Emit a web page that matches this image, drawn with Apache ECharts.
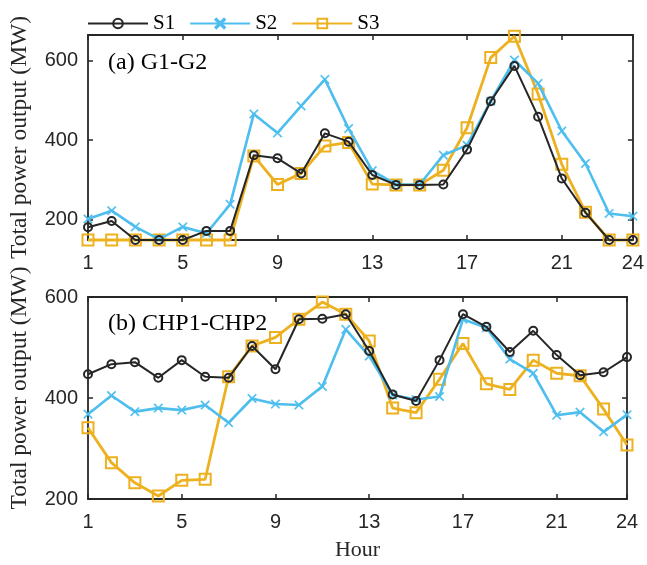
<!DOCTYPE html>
<html>
<head>
<meta charset="utf-8">
<script src="https://cdn.jsdelivr.net/npm/echarts@6/dist/echarts.min.js"></script>
<style>
html, body { margin: 0; padding: 0; background: #fff; }
#chart { width: 647px; height: 565px; }
</style>
</head>
<body>
<div id="chart"></div>
<script>
// hours on the x axis
const hours = [1, 2, 3, 4, 5, 6, 7, 8, 9, 10, 11, 12, 13, 14, 15, 16, 17, 18, 19, 20, 21, 22, 23, 24];
const xTicks = [1, 5, 9, 13, 17, 21, 24];
const yTicksTop = [200, 400, 600];
const yTicksBottom = [200, 400, 600];
const seriesNames = ['S1', 'S2', 'S3'];

// (a) G1-G2
const genS1 = [180, 196, 148, 148, 148, 171, 171, 362, 354, 316, 417, 396, 312, 287, 287, 288, 376, 498, 587, 459, 303, 217, 148, 148];
const genS2 = [201, 222, 181, 150, 181, 165, 238, 466, 418, 486, 553, 429, 323, 288, 288, 362, 387, 498, 602, 543, 423, 341, 215, 208];
const genS3 = [148, 148, 148, 148, 148, 148, 148, 360, 288, 316, 385, 394, 289, 287, 287, 324, 431, 608, 662, 516, 339, 218, 148, 148];

// (b) CHP1-CHP2
const chpS1 = [447, 467, 471, 440, 475, 442, 440, 503, 457, 556, 557, 566, 493, 407, 394, 475, 566, 541, 491, 533, 485, 445, 451, 481];
const chpS2 = [368, 405, 373, 380, 376, 386, 351, 399, 388, 386, 423, 536, 483, 406, 397, 403, 556, 539, 477, 449, 366, 372, 333, 367];
const chpS3 = [341, 272, 232, 206, 237, 239, 442, 503, 520, 556, 590, 566, 513, 380, 371, 437, 508, 428, 417, 475, 449, 444, 378, 307];

const axisColor = '#262626';
const serif = 'Liberation Serif';
const sans = 'Liberation Sans';

const styles = {
    S1: { color: '#262626', symbol: 'circle', size: 8, width: 2 },
    S2: { color: '#4DBEEE', symbol: 'path://M0,1L1,0L5,4L9,0L10,1L6,5L10,9L9,10L5,6L1,10L0,9L4,5Z', size: 9, width: 2.6 },
    S3: { color: '#EDB120', symbol: 'rect', size: 11, width: 2.8 }
};

function pairs(values) {
    return values.map((v, i) => [hours[i], v]);
}

function makeSeries(name, values, gridIdx) {
    const s = styles[name];
    const hollow = name !== 'S2';
    return {
        name: name,
        type: 'line',
        xAxisIndex: gridIdx * 2,
        yAxisIndex: gridIdx * 2,
        data: pairs(values),
        clip: false,
        symbol: s.symbol,
        symbolSize: s.size,
        color: s.color,
        lineStyle: { color: s.color, width: s.width },
        itemStyle: {
            color: hollow ? 'rgba(255,255,255,0)' : s.color,
            borderColor: s.color,
            borderWidth: hollow ? 2 : 0.5
        },
        emphasis: { disabled: true },
        z: name === 'S1' ? 4 : (name === 'S2' ? 3 : 2)
    };
}

// bottom axis with labels + mirrored top axis (box)
function xAxes(gridIdx, withName) {
    const line = { show: true, onZero: false, lineStyle: { color: axisColor, width: 1.8 } };
    const tick = { show: true, inside: true, length: 5, customValues: xTicks, lineStyle: { color: axisColor, width: 1.5 } };
    const bottom = {
        type: 'value', gridIndex: gridIdx, min: 1, max: 24, position: 'bottom',
        splitLine: { show: false }, axisLine: line, axisTick: tick,
        axisLabel: { show: true, customValues: xTicks, margin: 13, fontFamily: sans, fontSize: 20, color: '#262626' }
    };
    if (withName) {
        bottom.name = 'Hour';
        bottom.nameLocation = 'middle';
        bottom.nameGap = 40;
        bottom.nameTextStyle = { fontFamily: serif, fontSize: 22, color: '#262626' };
    }
    const top = {
        type: 'value', gridIndex: gridIdx, min: 1, max: 24, position: 'top',
        splitLine: { show: false }, axisLine: line, axisTick: tick, axisLabel: { show: false }
    };
    return [bottom, top];
}

// left axis with labels + mirrored right axis
function yAxes(gridIdx, min, max, ticks, namePad) {
    const line = { show: true, onZero: false, lineStyle: { color: axisColor, width: 1.8 } };
    const tick = { show: true, inside: true, length: 5, customValues: ticks, lineStyle: { color: axisColor, width: 1.5 } };
    const left = {
        type: 'value', gridIndex: gridIdx, min: min, max: max, position: 'left',
        splitLine: { show: false }, axisLine: line, axisTick: tick,
        axisLabel: { show: true, customValues: ticks, margin: 10, fontFamily: sans, fontSize: 20, color: '#262626' },
        name: 'Total power output (MW)',
        nameLocation: 'middle',
        nameGap: 56,
        nameTextStyle: { fontFamily: serif, fontSize: 23.5, color: '#262626', padding: namePad }
    };
    const right = {
        type: 'value', gridIndex: gridIdx, min: min, max: max, position: 'right',
        splitLine: { show: false }, axisLine: line, axisTick: tick, axisLabel: { show: false }
    };
    return [left, right];
}

const chart = echarts.init(document.getElementById('chart'));

const option = {
    backgroundColor: '#fff',
    animation: false,
    title: [
        { text: '(a) G1-G2', left: 103, top: 46, textStyle: { fontFamily: serif, fontSize: 24, fontWeight: 'normal', color: '#000' } },
        { text: '(b) CHP1-CHP2', left: 103, top: 307, textStyle: { fontFamily: serif, fontSize: 24, fontWeight: 'normal', color: '#000' } }
    ],
    legend: {
        data: seriesNames,
        left: 82,
        top: 8,
        itemWidth: 60,
        itemHeight: 12,
        itemGap: 14,
        textStyle: { fontFamily: serif, fontSize: 21, color: '#000' }
    },
    grid: [
        { left: 88, right: 13, top: 35, bottom: 325 },
        { left: 87, right: 20, top: 297, bottom: 66 }
    ],
    xAxis: xAxes(0, false).concat(xAxes(1, true)),
    yAxis: yAxes(0, 148, 665, yTicksTop, [0, 0, 0, 0]).concat(yAxes(1, 200, 600, yTicksBottom, [0, 0, 0, 20])),
    series: [
        makeSeries('S3', genS3, 0),
        makeSeries('S2', genS2, 0),
        makeSeries('S1', genS1, 0),
        makeSeries('S3', chpS3, 1),
        makeSeries('S2', chpS2, 1),
        makeSeries('S1', chpS1, 1)
    ]
};

chart.setOption(option);
</script>
</body>
</html>
